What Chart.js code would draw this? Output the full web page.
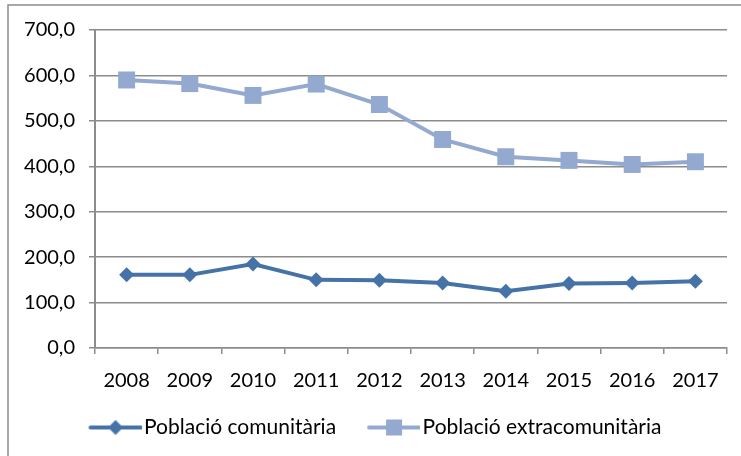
<!DOCTYPE html>
<html>
<head>
<meta charset="utf-8">
<script src="https://cdn.jsdelivr.net/npm/chart.js@4/dist/chart.umd.min.js"></script>
<style>
html,body{margin:0;padding:0;background:#fff;}
canvas{display:block;}
</style>
</head>
<body>
<canvas id="c" width="741" height="456"></canvas>
<script>
const years = ['2008','2009','2010','2011','2012','2013','2014','2015','2016','2017'];
const comunitaria = [161, 161, 185, 150, 149, 143, 125, 142, 143, 147];
const extracomunitaria = [590, 582, 556, 581, 536, 459, 421, 413, 404, 410];
const seriesNames = ['Població comunitària', 'Població extracomunitària'];
const yTicks = [0, 100, 200, 300, 400, 500, 600, 700];

const colCom = '#4572A7';
const colExt = '#93A9CF';
const FONT = 'Lato, "Open Sans", sans-serif';
const FS = 20;
const LEG_W = 60;      // legend box width
const LEG_C = 76;      // legend icon canvas width

function legendIcon(color, shape) {
  const cv = document.createElement('canvas');
  cv.width = LEG_C; cv.height = 18;
  const g = cv.getContext('2d');
  const x1 = LEG_C - 51, x2 = LEG_C - 1, cx = (x1 + x2) / 2;
  g.strokeStyle = color; g.lineWidth = 4; g.lineCap = 'round';
  g.beginPath(); g.moveTo(x1, 9); g.lineTo(x2, 9); g.stroke();
  g.fillStyle = color;
  g.beginPath();
  if (shape === 'diamond') {
    g.moveTo(cx, 1.5); g.lineTo(cx + 7.5, 9); g.lineTo(cx, 16.5); g.lineTo(cx - 7.5, 9); g.closePath();
  } else {
    g.rect(cx - 8, 1, 16, 16);
  }
  g.fill();
  return cv;
}

const framePlugin = {
  id: 'frame',
  beforeDraw(chart) {
    const ctx = chart.ctx;
    ctx.save();
    ctx.fillStyle = '#fff';
    ctx.fillRect(0, 0, chart.width, chart.height);
    ctx.strokeStyle = '#8c8c8c';
    ctx.lineWidth = 1.5;
    ctx.beginPath();
    ctx.moveTo(8, chart.height);
    ctx.lineTo(8, 5);
    ctx.lineTo(chart.width, 5);
    ctx.stroke();
    ctx.restore();
  }
};

new Chart(document.getElementById('c'), {
  type: 'line',
  data: {
    labels: years,
    datasets: [
      {
        label: seriesNames[0],
        data: comunitaria,
        borderColor: colCom,
        backgroundColor: colCom,
        borderWidth: 4,
        pointStyle: 'rectRot',
        pointRadius: 7.5,
        pointHoverRadius: 7.5,
        pointBorderWidth: 0,
        tension: 0
      },
      {
        label: seriesNames[1],
        data: extracomunitaria,
        borderColor: colExt,
        backgroundColor: colExt,
        borderWidth: 4,
        pointStyle: 'rect',
        pointRadius: 12,
        pointHoverRadius: 12,
        pointBorderWidth: 0,
        tension: 0
      }
    ]
  },
  options: {
    responsive: false,
    animation: false,
    layout: { padding: { left: 8, right: 14, top: 30, bottom: 8 } },
    plugins: {
      tooltip: { enabled: false },
      legend: {
        position: 'bottom',
        labels: {
          usePointStyle: true,
          pointStyleWidth: LEG_W,
          boxHeight: 18,
          padding: 16,
          color: '#000',
          font: { family: FONT, size: 21 },
          generateLabels(chart) {
            return chart.data.datasets.map((ds, i) => ({
              text: ds.label,
              pointStyle: legendIcon(ds.borderColor, i === 0 ? 'diamond' : 'square'),
              fillStyle: ds.borderColor,
              strokeStyle: ds.borderColor,
              lineWidth: 0,
              datasetIndex: i,
              fontColor: '#000'
            }));
          }
        }
      }
    },
    scales: {
      x: {
        offset: true,
        grid: {
          offset: true,
          drawOnChartArea: false,
          drawTicks: true,
          tickLength: 6,
          color: '#8c8c8c',
          lineWidth: 1.5
        },
        border: { color: '#8c8c8c', width: 1.5 },
        ticks: {
          color: '#000',
          font: { family: FONT, size: FS },
          padding: 15,
          maxRotation: 0
        },
        afterFit(scale) { scale.height = 53; }
      },
      y: {
        min: 0,
        max: 700,
        afterBuildTicks(scale) { scale.ticks = yTicks.map(v => ({ value: v })); },
        grid: {
          color: '#8c8c8c',
          lineWidth: 1.5,
          tickLength: 6
        },
        border: { color: '#8c8c8c', width: 2 },
        ticks: {
          color: '#000',
          font: { family: FONT, size: FS },
          padding: 14,
          callback: v => v.toFixed(1).replace('.', ',')
        },
        afterFit(scale) { scale.width = 87; }
      }
    }
  },
  plugins: [framePlugin]
});
</script>
</body>
</html>
